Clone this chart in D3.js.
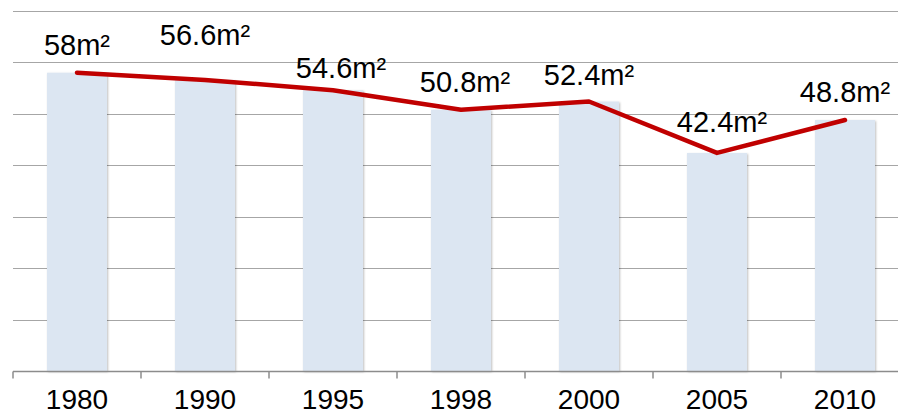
<!DOCTYPE html>
<html>
<head>
<meta charset="utf-8">
<script src="https://cdn.jsdelivr.net/npm/d3@7"></script>
<style>
  body { margin: 0; background: #fff; }
  svg { display: block; font-family: "Liberation Sans", Arial, sans-serif; }
</style>
</head>
<body>
<svg id="chart" width="898" height="412"></svg>
<script>
// chart data
var years = ["1980", "1990", "1995", "1998", "2000", "2005", "2010"];
var areas = [58, 56.6, 54.6, 50.8, 52.4, 42.4, 48.8];
var yTicks = [0, 10, 20, 30, 40, 50, 60, 70];

// manual label nudges (Excel-style hand placed labels)
var labelDx = [0, 0, 8, 4, 0, 5, 0];
var labelDy = [-18, -35, -12, -18, -17, -21, -18];

var svg = d3.select("#chart");

var x = d3.scaleBand()
    .domain(years)
    .range([13, 909])
    .paddingInner(0)
    .paddingOuter(0);

var y = d3.scaleLinear()
    .domain([0, 70])
    .range([371, 11]);

var defs = svg.append("defs");
var shadow = defs.append("filter")
    .attr("id", "barShadow")
    .attr("x", "-10%").attr("y", "-10%")
    .attr("width", "130%").attr("height", "130%");
shadow.append("feDropShadow")
    .attr("dx", 1).attr("dy", 1)
    .attr("stdDeviation", 1.2)
    .attr("flood-color", "#000")
    .attr("flood-opacity", 0.25);

/* Gridlines */
svg.append("g")
    .selectAll("line")
    .data(yTicks.filter(function (d) { return d > 0; }))
    .enter()
    .append("line")
    .attr("x1", 13)
    .attr("x2", 898)
    .attr("y1", function (d) { return Math.round(y(d)) + 0.5; })
    .attr("y2", function (d) { return Math.round(y(d)) + 0.5; })
    .attr("stroke", "#a6a6a6")
    .attr("stroke-width", 1.2);

/* Bars */
var barWidth = 60;
svg.append("g")
    .selectAll("rect")
    .data(areas)
    .enter()
    .append("rect")
    .attr("x", function (d, i) { return x(years[i]) + x.bandwidth() / 2 - barWidth / 2; })
    .attr("y", function (d) { return y(d); })
    .attr("width", barWidth)
    .attr("height", function (d) { return y(0) - y(d); })
    .attr("fill", "#dce6f2")
    .attr("filter", "url(#barShadow)");

/* X axis */
var xAxis = d3.axisBottom(x)
    .tickValues([])
    .tickSizeOuter(0);

var axisG = svg.append("g")
    .attr("transform", "translate(0," + (y(0) + 0.5) + ")")
    .call(xAxis);
axisG.select(".domain")
    .attr("stroke", "#8c8c8c")
    .attr("stroke-width", 1.5)
    .attr("d", "M13,0H898");

// tick marks on band boundaries
var boundaries = years.map(function (d) { return x(d); });
axisG.selectAll("line.bound")
    .data(boundaries)
    .enter()
    .append("line")
    .attr("class", "bound")
    .attr("x1", function (d) { return d; })
    .attr("x2", function (d) { return d; })
    .attr("y1", 0)
    .attr("y2", 7)
    .attr("stroke", "#8c8c8c")
    .attr("stroke-width", 1.5);

axisG.selectAll("text.yr")
    .data(years)
    .enter()
    .append("text")
    .attr("class", "yr")
    .attr("x", function (d) { return x(d) + x.bandwidth() / 2; })
    .attr("y", 37.5)
    .attr("text-anchor", "middle")
    .attr("font-size", 28)
    .attr("fill", "#000")
    .text(function (d) { return d; });

/* Line */
var line = d3.line()
    .x(function (d, i) { return x(years[i]) + x.bandwidth() / 2; })
    .y(function (d) { return y(d); });

svg.append("path")
    .datum(areas)
    .attr("d", line)
    .attr("fill", "none")
    .attr("stroke", "#c00000")
    .attr("stroke-width", 4.5)
    .attr("stroke-linecap", "round")
    .attr("stroke-linejoin", "round");

/* Data labels */
svg.append("g")
    .selectAll("text")
    .data(areas)
    .enter()
    .append("text")
    .attr("x", function (d, i) { return x(years[i]) + x.bandwidth() / 2 + labelDx[i]; })
    .attr("y", function (d, i) { return y(d) + labelDy[i]; })
    .attr("text-anchor", "middle")
    .attr("font-size", 29)
    .attr("fill", "#000")
    .text(function (d) { return d + "m²"; });
</script>
</body>
</html>
